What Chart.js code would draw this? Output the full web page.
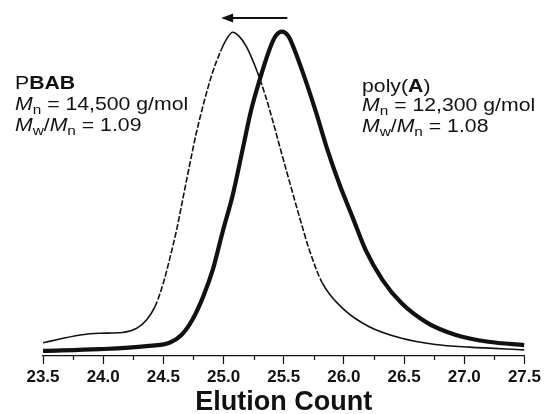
<!DOCTYPE html>
<html>
<head>
<meta charset="utf-8">
<script src="https://cdn.jsdelivr.net/npm/chart.js@4/dist/chart.umd.min.js"></script>
<style>
  html, body { margin: 0; padding: 0; background: #fff; }
  canvas { display: block; }
</style>
</head>
<body>
<canvas id="gpc" width="544" height="414"></canvas>
<script>
// ── DATA ─────────────────────────────────────────────
// PBAB trace (dashed, thin)
const pbabX = [23.5, 23.81, 23.97, 24.16, 24.28, 24.36, 24.43, 24.50, 24.55, 24.61, 24.66, 24.70, 24.74,
  24.77, 24.84, 24.91, 24.98, 25.03, 25.076, 25.13, 25.19, 25.28, 25.35, 25.41, 25.46, 25.55, 25.63,
  25.71, 25.82, 25.99, 26.21, 26.48, 26.76, 27.04, 27.5];
const pbabY = [0.039, 0.062, 0.067, 0.069, 0.082, 0.106, 0.145, 0.215, 0.282, 0.371, 0.459, 0.530, 0.600,
  0.650, 0.750, 0.835, 0.900, 0.935, 0.952, 0.940, 0.910, 0.836, 0.763, 0.690, 0.625, 0.510, 0.410,
  0.315, 0.215, 0.140, 0.086, 0.052, 0.034, 0.026, 0.018];

// poly(A) trace (solid, thick)
const polyAX = [23.5, 23.97, 24.36, 24.55, 24.65, 24.74, 24.83, 24.91, 24.99, 25.08, 25.16, 25.23, 25.30,
  25.38, 25.43, 25.485, 25.54, 25.59, 25.68, 25.77, 25.86, 25.96, 26.07, 26.18, 26.32, 26.48, 26.70,
  26.93, 27.20, 27.5];
const polyAY = [0.015, 0.020, 0.029, 0.039, 0.062, 0.106, 0.174, 0.253, 0.362, 0.479, 0.610, 0.724, 0.812,
  0.900, 0.940, 0.954, 0.940, 0.900, 0.812, 0.715, 0.610, 0.508, 0.410, 0.312, 0.224, 0.155, 0.096,
  0.062, 0.042, 0.032];

const xTicks = [23.5, 24.0, 24.5, 25.0, 25.5, 26.0, 26.5, 27.0, 27.5];
const xMinorTicks = [23.75, 24.25, 24.75, 25.25, 25.75, 26.25, 26.75, 27.25];

const pbabLabel = [
  [{ t: 'P' }, { t: 'BAB', b: true }],
  [{ t: 'M', i: true }, { t: 'n', sub: true }, { t: ' = 14,500 g/mol' }],
  [{ t: 'M', i: true }, { t: 'w', sub: true }, { t: '/' }, { t: 'M', i: true }, { t: 'n', sub: true }, { t: ' = 1.09' }],
];
const polyALabel = [
  [{ t: 'poly(' }, { t: 'A', b: true }, { t: ')' }],
  [{ t: 'M', i: true }, { t: 'n', sub: true }, { t: ' = 12,300 g/mol' }],
  [{ t: 'M', i: true }, { t: 'w', sub: true }, { t: '/' }, { t: 'M', i: true }, { t: 'n', sub: true }, { t: ' = 1.08' }],
];

// ── HELPERS ──────────────────────────────────────────
const FAMILY = '"Liberation Sans", Arial, sans-serif';
const ink = '#111';

function toPoints(xs, ys) {
  return xs.map((x, i) => ({ x: x, y: ys[i] }));
}

// the scanned labels are a bit wider than the font, so stretch them
function drawRich(ctx, x, y, parts) {
  ctx.save();
  ctx.translate(x, y);
  ctx.scale(1.18, 1);
  let cx = 0;
  parts.forEach(p => {
    const size = p.sub ? 13 : 18;
    ctx.font = (p.i ? 'italic ' : '') + (p.b ? 'bold ' : '') + size + 'px ' + FAMILY;
    ctx.fillText(p.t, cx, p.sub ? 4 : 0);
    cx += ctx.measureText(p.t).width;
  });
  ctx.restore();
}

// arrow + sample labels + minor ticks
const extras = {
  id: 'extras',
  afterDraw(chart) {
    const ctx = chart.ctx;
    const xs = chart.scales.x;
    const bottom = chart.chartArea.bottom;
    ctx.save();

    // minor ticks
    ctx.strokeStyle = ink;
    ctx.lineWidth = 1.2;
    xMinorTicks.forEach(v => {
      const px = Math.round(xs.getPixelForValue(v)) + 0.5;
      ctx.beginPath();
      ctx.moveTo(px, bottom);
      ctx.lineTo(px, bottom + 4);
      ctx.stroke();
    });

    // shift arrow
    const ax0 = xs.getPixelForValue(25.53);
    const ax1 = xs.getPixelForValue(24.98);
    const ay = 18;
    ctx.lineWidth = 2;
    ctx.beginPath();
    ctx.moveTo(ax0, ay);
    ctx.lineTo(ax1 + 8, ay);
    ctx.stroke();
    ctx.fillStyle = ink;
    ctx.beginPath();
    ctx.moveTo(ax1, ay);
    ctx.lineTo(ax1 + 12, ay - 4.5);
    ctx.lineTo(ax1 + 12, ay + 4.5);
    ctx.closePath();
    ctx.fill();

    // labels
    ctx.textBaseline = 'alphabetic';
    ctx.textAlign = 'left';
    [89, 110, 131].forEach((by, i) => drawRich(ctx, 15, by, pbabLabel[i]));
    [92, 111, 132].forEach((by, i) => drawRich(ctx, 362, by, polyALabel[i]));

    ctx.restore();
  }
};

// ── CHART ────────────────────────────────────────────
new Chart(document.getElementById('gpc'), {
  type: 'line',
  data: {
    datasets: [
      {
        label: 'PBAB',
        data: toPoints(pbabX, pbabY),
        borderColor: ink,
        borderWidth: 1.6,
        pointRadius: 0,
        fill: false,
        cubicInterpolationMode: 'monotone',
        segment: {
          // steep flanks come out dashed, flat tails solid
          borderDash: c => Math.abs(c.p1.y - c.p0.y) > 2.5 * Math.abs(c.p1.x - c.p0.x) ? [6, 2] : undefined,
        },
      },
      {
        label: 'poly(A)',
        data: toPoints(polyAX, polyAY),
        borderColor: ink,
        borderWidth: 4.2,
        pointRadius: 0,
        fill: false,
        cubicInterpolationMode: 'monotone',
      },
    ]
  },
  options: {
    responsive: false,
    animation: false,
    layout: { padding: { left: 43, right: 16, top: 16, bottom: -3 } },
    plugins: { legend: { display: false }, tooltip: { enabled: false } },
    scales: {
      x: {
        type: 'linear',
        min: 23.5, max: 27.5,
        afterBuildTicks: s => { s.ticks = xTicks.map(v => ({ value: v })); },
        border: { display: true, color: ink, width: 1.2 },
        grid: { drawOnChartArea: false, drawTicks: true, tickLength: 8, tickColor: ink, tickWidth: 1.2 },
        ticks: {
          padding: 3,
          color: ink,
          maxRotation: 0,
          font: { family: FAMILY, size: 17, weight: 'bold' },
          callback: v => Number(v).toFixed(1),
        },
        title: {
          display: true,
          text: 'Elution Count',
          color: ink,
          padding: { top: -1.4, bottom: 1 },
          font: { family: FAMILY, size: 27, weight: 'bold', lineHeight: 1 },
        },
      },
      y: { display: false, min: 0, max: 1 },
    }
  },
  plugins: [extras]
});
</script>
</body>
</html>
